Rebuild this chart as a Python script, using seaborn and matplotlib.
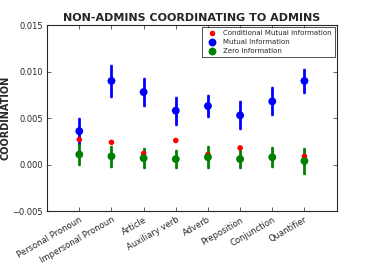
import numpy as np
import pandas as pd
import seaborn as sns
import matplotlib.pyplot as plt

categories = ['Personal Pronoun', 'Impersonal Pronoun', 'Article', 'Auxiliary verb',
              'Adverb', 'Preposition', 'Conjunction', 'Quantifier']
conditional_mi = [0.0027, 0.0024, 0.0012, 0.0026, 0.0011, 0.0018, 0.00075, 0.0009]
mutual_info = [0.0036, 0.0090, 0.0078, 0.0058, 0.0063, 0.0053, 0.0068, 0.0090]
mutual_err = [0.0014, 0.0017, 0.0015, 0.0015, 0.0012, 0.0015, 0.0015, 0.0013]
zero_info = [0.0011, 0.0009, 0.0007, 0.0006, 0.0008, 0.0006, 0.0008, 0.0004]
zero_err = [0.0011, 0.0011, 0.0011, 0.0010, 0.0012, 0.0010, 0.0011, 0.0014]

sns.set_style('ticks')
plt.rcParams['font.family'] = ['DejaVu Sans']

x = np.arange(1, len(categories) + 1)
df = pd.DataFrame({'x': np.tile(x, 3),
                   'y': conditional_mi + mutual_info + zero_info,
                   'series': ['Conditional Mutual Information'] * 8 + ['Mutual Information'] * 8 + ['Zero Information'] * 8})

fig, ax = plt.subplots(figsize=(3.74, 2.64), dpi=100)

# error bars first, then the points on top
ax.errorbar(x, mutual_info, yerr=mutual_err, fmt='none', ecolor='blue', elinewidth=2, capsize=1, capthick=1)
ax.errorbar(x, zero_info, yerr=zero_err, fmt='none', ecolor='green', elinewidth=2, capsize=1, capthick=1)

sns.scatterplot(data=df, x='x', y='y', hue='series', size='series',
                sizes={'Conditional Mutual Information': 16, 'Mutual Information': 32, 'Zero Information': 32},
                palette={'Conditional Mutual Information': 'red', 'Mutual Information': 'blue', 'Zero Information': 'green'},
                linewidth=0, ax=ax, zorder=3)

ax.set_xlim(0, 9)
ax.set_ylim(-0.005, 0.015)
ax.set_yticks([-0.005, 0.0, 0.005, 0.010, 0.015])
ax.set_yticklabels(['\u22120.005', '0.000', '0.005', '0.010', '0.015'], fontsize=6)
ax.set_xticks(x)
ax.set_xticklabels(categories, rotation=30, ha='right', fontsize=6, rotation_mode='anchor')
ax.tick_params(direction='in', top=True, right=True, length=3, width=0.5, pad=3)
for s in ax.spines.values():
    s.set_linewidth(0.8)

ax.set_title('NON-ADMINS COORDINATING TO ADMINS', fontsize=8, fontweight='bold', pad=3)
ax.set_xlabel('')
ax.set_ylabel('COORDINATION', fontsize=7, fontweight='bold')
ax.yaxis.set_label_coords(-0.125, 0.5)

leg = ax.legend(loc='upper right', fontsize=5, frameon=True, fancybox=False,
                edgecolor='black', borderpad=0.4, handletextpad=0.6, labelspacing=0.45,
                borderaxespad=0.3)
leg.get_frame().set_linewidth(0.6)

plt.subplots_adjust(left=0.126, right=0.9, top=0.905, bottom=0.2)
plt.savefig('out.png', dpi=100)
